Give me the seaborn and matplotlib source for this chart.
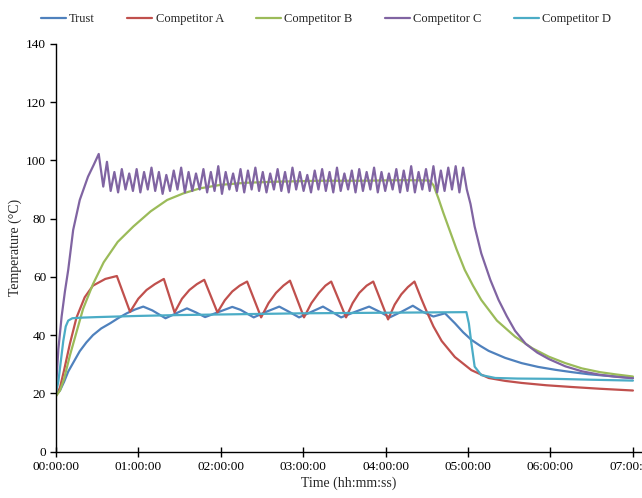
import pandas as pd
import matplotlib
matplotlib.use("Agg")
import matplotlib.pyplot as plt
import seaborn as sns

# Time in hours, temperatures in degC
trust_t = [0, 0.05, 0.10, 0.15, 0.22, 0.29, 0.37, 0.45, 0.55, 0.66, 0.76, 0.86, 0.96, 1.06, 1.17,
           1.33, 1.46, 1.59, 1.70, 1.81, 1.98, 2.14, 2.24, 2.40, 2.55, 2.71, 2.83, 2.95, 3.10, 3.24,
           3.35, 3.46, 3.63, 3.80, 3.93, 4.05, 4.19, 4.33, 4.45, 4.58, 4.72, 4.84, 4.94, 5.04, 5.15,
           5.25, 5.45, 5.65, 5.85, 6.06, 6.26, 6.46, 6.70, 7.00]
trust_v = [19.5, 21, 24, 27.5, 31, 34.5, 37.5, 40, 42.3, 44.1, 45.9, 47.5, 48.8, 49.8, 48.5,
           45.8, 47.5, 49.2, 47.8, 46.2, 48, 49.7, 48.7, 46.1, 48, 49.8, 48, 46.1, 48, 49.8,
           48, 46.1, 48, 49.8, 48, 46.1, 48, 50.1, 48, 46.4, 47.5, 44.1, 41, 38.4, 36.3,
           34.6, 32.2, 30.4, 29.1, 28.1, 27.3, 26.6, 26, 25.3]

comp_a_t = [0, 0.05, 0.10, 0.17, 0.25, 0.35, 0.45, 0.60, 0.74, 0.90, 1.00, 1.10, 1.20, 1.31,
            1.44, 1.53, 1.62, 1.71, 1.80, 1.96, 2.05, 2.14, 2.23, 2.32, 2.49, 2.58, 2.67, 2.76,
            2.84, 3.01, 3.10, 3.19, 3.27, 3.34, 3.52, 3.60, 3.68, 3.77, 3.85, 4.03, 4.11, 4.19,
            4.27, 4.35, 4.43, 4.50, 4.58, 4.68, 4.84, 5.04, 5.25, 5.45, 5.65, 5.95, 6.26, 6.60, 7.00]
comp_a_v = [19, 22, 28, 37, 46, 53, 57, 59.3, 60.3, 48, 52.5, 55.5, 57.5, 59.3,
            47.8, 52.5, 55.5, 57.5, 59, 47.8, 52, 55, 57, 58.4, 46.1, 51, 54.5, 57,
            58.7, 46.1, 51, 54.5, 57, 58.4, 46.1, 51, 54.5, 57, 58.4, 45.4, 50.5, 54,
            56.5, 58.4, 52.7, 48, 43, 38, 32.5, 28, 25.3, 24.3, 23.6, 22.8, 22.2, 21.6, 21.0]

comp_b_t = [0, 0.05, 0.10, 0.17, 0.25, 0.33, 0.45, 0.58, 0.75, 0.94, 1.15, 1.35, 1.55, 1.75,
            2.0, 2.3, 2.7, 3.2, 3.7, 4.2, 4.53, 4.58, 4.64, 4.70, 4.76, 4.86, 4.96, 5.06, 5.16,
            5.35, 5.57, 5.78, 5.98, 6.18, 6.38, 6.60, 6.80, 7.00]
comp_b_v = [19, 21, 25, 33, 41, 49, 57.5, 65, 72, 77.3, 82.5, 86.4, 88.7, 90.4,
            91.6, 92.3, 92.7, 93, 93, 93.2, 93.1, 91.5, 87, 82, 77.3, 69.5, 62.4, 57, 52.1,
            45, 39.5, 35.5, 32.6, 30.4, 28.6, 27.3, 26.5, 25.8]

comp_c_t = [0, 0.03, 0.07, 0.11, 0.15, 0.21, 0.29, 0.39, 0.46, 0.52, 0.575,
            0.62, 0.665, 0.71, 0.755, 0.80, 0.845, 0.89, 0.935, 0.98, 1.025, 1.07, 1.115,
            1.16, 1.205, 1.25, 1.295, 1.34, 1.385, 1.43, 1.475, 1.52, 1.565, 1.61, 1.655,
            1.70, 1.745, 1.79, 1.835, 1.88, 1.925, 1.97, 2.015, 2.06, 2.105, 2.15, 2.195,
            2.24, 2.285, 2.33, 2.375, 2.42, 2.465, 2.51, 2.555, 2.60, 2.645, 2.69, 2.735,
            2.78, 2.825, 2.87, 2.915, 2.96, 3.005, 3.05, 3.095, 3.14, 3.185, 3.23, 3.275,
            3.32, 3.365, 3.41, 3.455, 3.50, 3.545, 3.59, 3.635, 3.68, 3.725, 3.77, 3.815,
            3.86, 3.905, 3.95, 3.995, 4.04, 4.085, 4.13, 4.175, 4.22, 4.265, 4.31, 4.355,
            4.40, 4.445, 4.49, 4.535, 4.58, 4.625, 4.67, 4.715, 4.76, 4.805, 4.85, 4.895,
            4.94, 4.985, 5.03, 5.08, 5.16, 5.27, 5.37, 5.47, 5.57, 5.70, 5.84, 5.98, 6.18,
            6.38, 6.60, 6.80, 7.00]
comp_c_v = [21, 35, 46.4, 55, 62.4, 76.1, 86.4, 94.4, 98.5, 102.2, 91,
            99.5, 89.5, 96, 89, 97, 90, 95.5, 89.5, 97, 89, 96, 90,
            97.5, 89.5, 96, 88.5, 95, 89.5, 96.5, 90, 97.5, 89, 96, 89.5,
            95.5, 90, 97, 89, 96, 89.5, 98, 88.5, 96, 90, 95.5, 89.5,
            97, 89, 96.5, 90, 97.5, 89.5, 96, 89, 95.5, 90, 97, 89.5,
            96, 89, 97.5, 90, 96, 89.5, 95, 89, 96.5, 90, 97, 89.5,
            96, 89, 97.5, 89.5, 95.5, 90, 96.5, 89, 97, 89.5, 96, 90,
            97.5, 89, 96, 89.5, 95.5, 90, 97, 89, 96.5, 89.5, 98, 89,
            96, 90, 97, 89.5, 98, 89, 96.5, 89.5, 97.5, 90, 98, 89,
            97.5, 90, 85, 77.3, 68.1, 59, 52.1, 46.5, 41.5, 37, 34, 31.8, 29.3,
            27.6, 26.4, 25.7, 25.2]

comp_d_t = [0, 0.03, 0.06, 0.09, 0.12, 0.15, 0.20, 0.30, 0.50, 1.0, 1.5, 2.0, 2.5, 3.0, 3.5,
            4.0, 4.5, 4.98, 5.01, 5.04, 5.08, 5.16, 5.33, 5.60, 6.06, 6.50, 7.00]
comp_d_v = [20, 24, 31, 38, 43, 45, 45.8, 46, 46.2, 46.6, 46.9, 47.1, 47.3, 47.5, 47.6,
            47.7, 47.8, 47.9, 44, 37.3, 29.2, 26.3, 25.3, 25.1, 25, 24.7, 24.4]

series_names = ["Trust", "Competitor A", "Competitor B", "Competitor C", "Competitor D"]
series_colors = ["#4F81BD", "#C0504D", "#9BBB59", "#8064A2", "#4BACC6"]
x_ticks = [0, 1, 2, 3, 4, 5, 6, 7]
x_tick_labels = ["00:00:00", "01:00:00", "02:00:00", "03:00:00",
                 "04:00:00", "05:00:00", "06:00:00", "07:00:00"]

frames = []
for name, t, v in zip(series_names,
                      [trust_t, comp_a_t, comp_b_t, comp_c_t, comp_d_t],
                      [trust_v, comp_a_v, comp_b_v, comp_c_v, comp_d_v]):
    frames.append(pd.DataFrame({"Time": t, "Temperature": v, "Series": name}))
df = pd.concat(frames, ignore_index=True)

sns.set_style("white")
plt.rcParams["font.family"] = ["Liberation Serif", "DejaVu Serif"]

fig = plt.figure(figsize=(6.42, 4.98), dpi=100)
ax = fig.add_axes([0.087, 0.093, 0.913, 0.819])

sns.lineplot(data=df, x="Time", y="Temperature", hue="Series", hue_order=series_names,
             palette=dict(zip(series_names, series_colors)), estimator=None, sort=False,
             linewidth=1.6, ax=ax, legend=True)

ax.set_xlim(0, 7.11)
ax.set_ylim(0, 140)
ax.set_yticks(range(0, 141, 20))
ax.set_xticks(x_ticks)
ax.set_xticklabels(x_tick_labels)
ax.set_xlabel("Time (hh:mm:ss)", fontsize=10, labelpad=3)
ax.set_ylabel("Temperature (°C)", fontsize=10, labelpad=3)
ax.tick_params(axis="x", direction="inout", length=7, width=1, labelsize=9.5, colors="black", pad=3)
ax.tick_params(axis="y", direction="out", length=4, width=1, labelsize=9.5, colors="black", pad=3)
ax.tick_params(bottom=True, left=True)

for side in ["top", "right"]:
    ax.spines[side].set_visible(False)
for side in ["left", "bottom"]:
    ax.spines[side].set_color("black")
    ax.spines[side].set_linewidth(1)

handles, labels = ax.get_legend_handles_labels()
ax.get_legend().remove()
fig.legend(handles, labels, loc="center", bbox_to_anchor=(0.508, 0.962), ncol=5,
           frameon=False, fontsize=9, handlelength=2.0, columnspacing=2.6,
           handletextpad=0.25)

fig.savefig("out.png", dpi=100)
